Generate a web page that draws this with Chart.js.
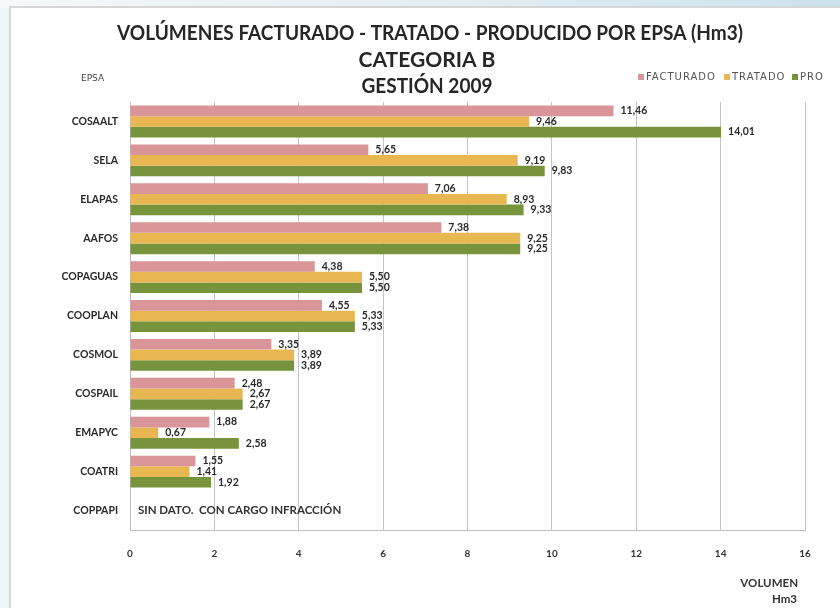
<!DOCTYPE html>
<html>
<head>
<meta charset="utf-8">
<script src="https://cdn.jsdelivr.net/npm/chart.js@4.4.1/dist/chart.umd.min.js"></script>
<style>
  html, body { margin: 0; padding: 0; }
  body {
    width: 840px; height: 608px; position: relative; overflow: hidden;
    background: #eef5f8;
  }
  #band {
    position: absolute; left: 0; top: 0; width: 840px; height: 8px;
    background: linear-gradient(to right, #f6f8f9, #e4eff3 50%, #cbe3ec);
  }
  #panel {
    position: absolute; left: 9px; top: 6px; right: 0; bottom: 0;
    background: #fff;
    border-left: 2px solid #d6d6d6;
    border-top: 2px solid #d6d6d6;
  }
  #mycanvas { position: absolute; left: 0; top: 0; }
</style>
</head>
<body>
<div id="band"></div>
<div id="panel"></div>
<canvas id="mycanvas" width="840" height="608"></canvas>
<script>
var epsa = ["COSAALT", "SELA", "ELAPAS", "AAFOS", "COPAGUAS", "COOPLAN", "COSMOL", "COSPAIL", "EMAPYC", "COATRI", "COPPAPI"];
var facturado = [11.46, 5.65, 7.06, 7.38, 4.38, 4.55, 3.35, 2.48, 1.88, 1.55, null];
var tratado   = [9.46, 9.19, 8.93, 9.25, 5.50, 5.33, 3.89, 2.67, 0.67, 1.41, null];
var producido = [14.01, 9.83, 9.33, 9.25, 5.50, 5.33, 3.89, 2.67, 2.58, 1.92, null];
var seriesNames = ["FACTURADO", "TRATADO", "PRO"];
var xTicks = [0, 2, 4, 6, 8, 10, 12, 14, 16];

var titleLines = ["VOLÚMENES FACTURADO - TRATADO - PRODUCIDO POR EPSA (Hm3)", "CATEGORIA B", "GESTIÓN 2009"];
var noDataText = "SIN DATO.  CON CARGO INFRACCIÓN";

var colors = ["#d99597", "#e9b752", "#77933c"];

// squeeze a line of text horizontally so it fits a given width (Calibri-ish look)
function squeezeText(ctx, text, cx, cy, w) {
  var m = ctx.measureText(text).width;
  var k = Math.min(1, w / m);
  ctx.save();
  ctx.translate(cx, cy);
  ctx.scale(k, 1);
  ctx.fillText(text, 0, 0);
  ctx.restore();
}

// titles, legend and side notes drawn by hand
var decorPlugin = {
  id: "decor",
  afterDraw: function(chart) {
    var ctx = chart.ctx;
    var xs = chart.scales.x, ys = chart.scales.y;
    ctx.save();
    ctx.fillStyle = "#262626";
    ctx.textBaseline = "middle";
    ctx.textAlign = "center";
    ctx.font = "bold 21px Lato";
    squeezeText(ctx, titleLines[0], 430, 33, 626);
    squeezeText(ctx, titleLines[1], 427, 60, 140);
    squeezeText(ctx, titleLines[2], 427, 86, 131);

    ctx.font = "9px 'DejaVu Sans'";
    ctx.fillStyle = "#444";
    ctx.textAlign = "left";
    ctx.fillText("EPSA", 81, 79);

    // legend
    var lx = [638, 724, 792];
    ctx.font = "10px 'DejaVu Sans'";
    ctx.letterSpacing = "1px";
    for (var i = 0; i < seriesNames.length; i++) {
      ctx.fillStyle = colors[i];
      ctx.fillRect(lx[i], 74, 6, 6);
      ctx.fillStyle = "#555";
      ctx.fillText(seriesNames[i], lx[i] + 8, 77.5);
    }
    ctx.letterSpacing = "0px";

    // value labels
    ctx.font = "bold 10.5px Lato";
    ctx.fillStyle = "#2a2a2a";
    chart.data.datasets.forEach(function(ds, di) {
      var meta = chart.getDatasetMeta(di);
      meta.data.forEach(function(bar, j) {
        var v = ds.data[j];
        if (v === null) return;
        ctx.fillText(v.toFixed(2).replace(".", ","), bar.x + 7, bar.y);
      });
    });

    // COPPAPI note
    ctx.font = "bold 11.5px Lato";
    ctx.fillStyle = "#333";
    ctx.fillText(noDataText, xs.left + 8, ys.getPixelForValue(10));

    // axis unit
    ctx.textAlign = "right";
    ctx.font = "bold 11.5px Lato";
    ctx.fillText("VOLUMEN", 798, 583);
    ctx.fillText("Hm3", 797, 599);
    ctx.restore();
  }
};

var ctx = document.getElementById("mycanvas");

var chartdata = {
  labels: epsa,
  datasets: [
    { label: seriesNames[0], data: facturado, backgroundColor: colors[0] },
    { label: seriesNames[1], data: tratado, backgroundColor: colors[1] },
    { label: seriesNames[2], data: producido, backgroundColor: colors[2] }
  ]
};

var BarGraph = new Chart(ctx, {
  type: "bar",
  data: chartdata,
  plugins: [decorPlugin],
  options: {
    indexAxis: "y",
    responsive: false,
    animation: { duration: 0 },
    devicePixelRatio: 1,
    layout: { padding: { top: 102, right: 35, left: 0, bottom: 0 } },
    datasets: { bar: { barPercentage: 1.0, categoryPercentage: 0.82 } },
    plugins: {
      legend: { display: false },
      title: { display: false },
      tooltip: { enabled: false }
    },
    scales: {
      x: {
        min: 0,
        max: 16,
        afterFit: function(s) { s.height = 78; },
        afterBuildTicks: function(s) { s.ticks = xTicks.map(function(v) { return { value: v }; }); },
        grid: { color: "#c4c4c4", drawTicks: false },
        border: { color: "#bdbdbd", width: 1 },
        ticks: { padding: 18, color: "#333", font: { family: "Lato", size: 10, weight: "bold" }, maxRotation: 0 }
      },
      y: {
        afterFit: function(s) { s.width = 130; },
        grid: { display: false, drawTicks: false },
        border: { color: "#bdbdbd", width: 1 },
        ticks: { padding: 12, color: "#2a2a2a", font: { family: "Lato", size: 10.5, weight: "bold" } }
      }
    }
  }
});
</script>
</body>
</html>
